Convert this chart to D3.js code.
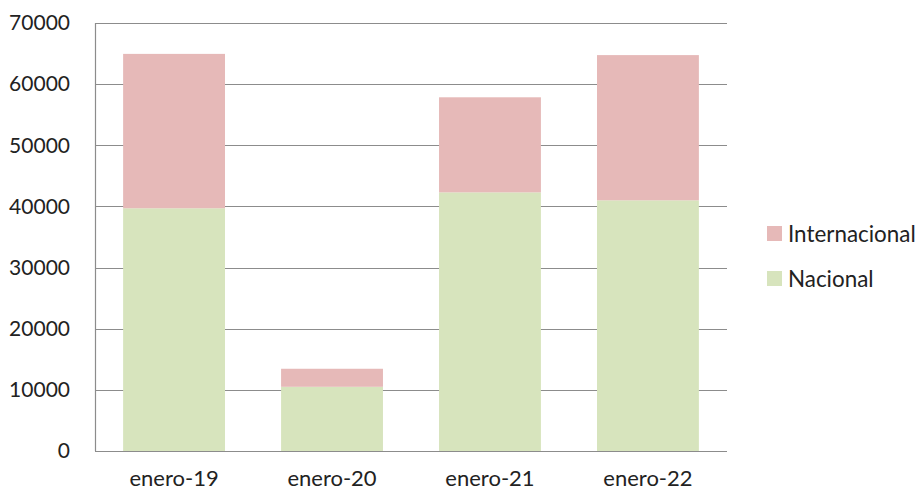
<!DOCTYPE html>
<html>
<head>
<meta charset="utf-8">
<script src="https://cdn.jsdelivr.net/npm/d3@7"></script>
<style>
  body { margin: 0; background: #fff; }
  svg text { font-family: Lato, "Open Sans", sans-serif; fill: #222; }
</style>
</head>
<body>
<svg id="chart" width="922" height="493"></svg>
<script>
var categories = ["enero-19", "enero-20", "enero-21", "enero-22"];
var nacional = [39700, 10500, 42300, 41000];
var internacional = [25250, 2950, 15550, 23750];
var seriesNames = ["Nacional", "Internacional"];
var yTicks = [0, 10000, 20000, 30000, 40000, 50000, 60000, 70000];

var colors = { Nacional: "#d7e4bd", Internacional: "#e6b9b8" };

var margin = { top: 23, right: 195, bottom: 42, left: 95 };
var width = 922, height = 493;

var svg = d3.select("#chart");

// build rows for the stack
var rows = categories.map(function (c, i) {
  return { category: c, Nacional: nacional[i], Internacional: internacional[i] };
});
var stacked = d3.stack().keys(seriesNames)(rows);

var x = d3.scaleBand()
  .domain(categories)
  .range([margin.left, width - margin.right])
  .paddingInner(0.355)
  .paddingOuter(0.178);

var y = d3.scaleLinear()
  .domain([0, 70000])
  .range([height - margin.bottom, margin.top]);

// gridlines
svg.append("g")
  .selectAll("line")
  .data(yTicks)
  .join("line")
  .attr("x1", margin.left)
  .attr("x2", width - margin.right)
  .attr("y1", function (d) { return Math.round(y(d)) + 0.5; })
  .attr("y2", function (d) { return Math.round(y(d)) + 0.5; })
  .attr("stroke", "#8c8c8c")
  .attr("stroke-width", 1.2);

// y axis line
svg.append("line")
  .attr("x1", margin.left + 0.5).attr("x2", margin.left + 0.5)
  .attr("y1", y(70000)).attr("y2", y(0))
  .attr("stroke", "#8c8c8c")
  .attr("stroke-width", 1.2);

// bars
svg.append("g")
  .selectAll("g")
  .data(stacked)
  .join("g")
  .attr("fill", function (d) { return colors[d.key]; })
  .selectAll("rect")
  .data(function (d) { return d; })
  .join("rect")
  .attr("x", function (d) { return x(d.data.category); })
  .attr("y", function (d) { return y(d[1]); })
  .attr("height", function (d) { return y(d[0]) - y(d[1]); })
  .attr("width", x.bandwidth());

// y tick labels
svg.append("g")
  .selectAll("text")
  .data(yTicks)
  .join("text")
  .attr("x", 70)
  .attr("y", function (d) { return y(d); })
  .attr("dy", "0.35em")
  .attr("text-anchor", "end")
  .attr("font-size", 21)
  .text(function (d) { return d; });

// x labels
svg.append("g")
  .selectAll("text")
  .data(categories)
  .join("text")
  .attr("x", function (d) { return x(d) + x.bandwidth() / 2; })
  .attr("y", 486)
  .attr("text-anchor", "middle")
  .attr("font-size", 22)
  .text(function (d) { return d; });

// legend
var legendItems = ["Internacional", "Nacional"];
var legend = svg.append("g")
  .selectAll("g")
  .data(legendItems)
  .join("g")
  .attr("transform", function (d, i) { return "translate(767," + (226 + i * 45) + ")"; });

legend.append("rect")
  .attr("width", 15)
  .attr("height", 15)
  .attr("fill", function (d) { return colors[d]; });

legend.append("text")
  .attr("x", 21)
  .attr("y", 8)
  .attr("dy", "0.35em")
  .attr("font-size", 22.4)
  .text(function (d) { return d; });
</script>
</body>
</html>
